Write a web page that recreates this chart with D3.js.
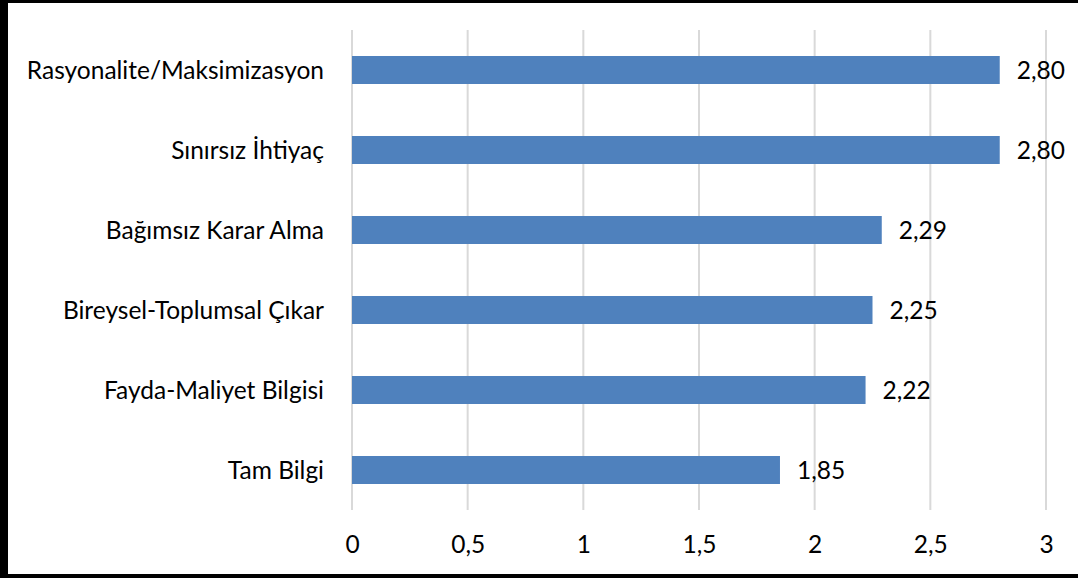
<!DOCTYPE html>
<html>
<head>
<meta charset="utf-8">
<script src="https://cdn.jsdelivr.net/npm/d3@7"></script>
<style>
  html, body { margin: 0; padding: 0; background: #fff; }
  svg { display: block; }
  text { font-family: Lato, "Open Sans", sans-serif; fill: #000; }
</style>
</head>
<body>
<svg id="chart" width="1078" height="578"></svg>
<script>
const categories = ["Rasyonalite/Maksimizasyon", "Sınırsız İhtiyaç", "Bağımsız Karar Alma", "Bireysel-Toplumsal Çıkar", "Fayda-Maliyet Bilgisi", "Tam Bilgi"];
const values = [2.80, 2.80, 2.29, 2.25, 2.22, 1.85];
const ticks = [0, 0.5, 1, 1.5, 2, 2.5, 3];

(function () {
const svg = d3.select("#chart");
const W = 1078, H = 578;
const mLeft = 352, mRight = 1046, mTop = 30, mBottom = 510;
const fontSize = 24.5;
const FF = "Lato, 'Open Sans', sans-serif";

svg.append("rect").attr("width", W).attr("height", H).attr("fill", "#fff");

const x = d3.scaleLinear().domain([0, 3]).range([mLeft, mRight]);
const y = d3.scaleBand().domain(categories).range([mTop, mBottom]).paddingInner(0.65).paddingOuter(0.325);

// gridlines
svg.append("g").selectAll("line").data(ticks).join("line")
  .attr("x1", d => x(d)).attr("x2", d => x(d))
  .attr("y1", mTop).attr("y2", mBottom)
  .attr("stroke", "#d9d9d9").attr("stroke-width", 2);

// bars
svg.append("g").selectAll("rect").data(values).join("rect")
  .attr("x", x(0))
  .attr("y", (d, i) => y(categories[i]))
  .attr("width", d => x(d) - x(0))
  .attr("height", y.bandwidth())
  .attr("fill", "#4f81bd");

// value labels
const fmt = v => v.toFixed(2).replace(".", ",");
svg.append("g").selectAll("text").data(values).join("text")
  .attr("x", d => x(d) + 17)
  .attr("y", (d, i) => y(categories[i]) + y.bandwidth() / 2 + 9)
  .attr("font-size", fontSize)
  .text(d => fmt(d));

// category labels
const yAxis = d3.axisLeft(y).tickSize(0).tickPadding(27);
const gy = svg.append("g").attr("transform", `translate(${mLeft - 1},0)`).call(yAxis);
gy.select(".domain").remove();
gy.selectAll("text").attr("font-size", fontSize).attr("font-family", FF).attr("fill", "#000").attr("dy", null)
  .attr("y", 9);

// x axis
const xAxis = d3.axisBottom(x).tickValues(ticks).tickSize(0).tickPadding(0)
  .tickFormat(d => String(d).replace(".", ","));
const gx = svg.append("g").attr("transform", `translate(0,${mBottom})`).call(xAxis);
gx.select(".domain").remove();
gx.selectAll("text").attr("font-size", fontSize).attr("font-family", FF).attr("fill", "#000").attr("dy", null).attr("y", 43);

// frame
svg.append("rect").attr("x", 0).attr("y", 0).attr("width", W).attr("height", 3).attr("fill", "#000");
svg.append("rect").attr("x", 0).attr("y", 0).attr("width", 8).attr("height", H).attr("fill", "#000");
svg.append("rect").attr("x", 0).attr("y", H - 4).attr("width", W).attr("height", 4).attr("fill", "#000");
})();
</script>
</body>
</html>
